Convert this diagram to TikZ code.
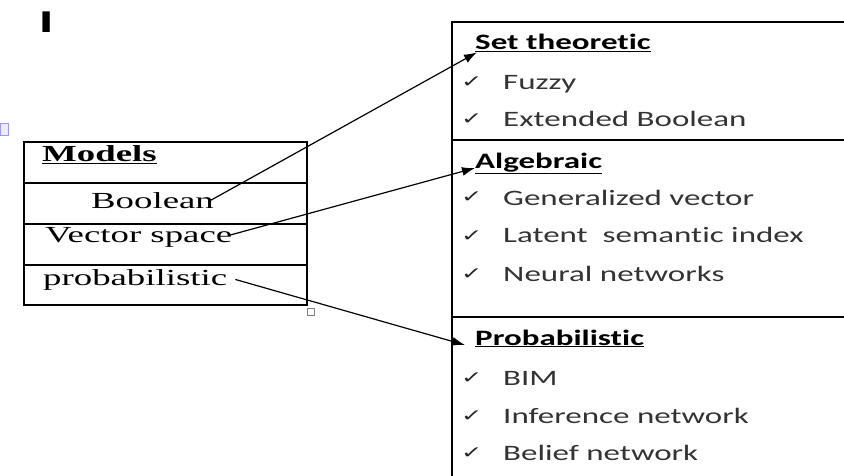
\documentclass[tikz,border=0pt]{standalone}
\usepackage{fontspec}
\usetikzlibrary{arrows.meta}
\setmainfont[FakeStretch=1.6]{Liberation Serif}
\newfontfamily\calfont[FakeStretch=1.5, Ligatures=NoCommon]{Carlito}
\newfontfamily\tickfont[FakeStretch=1.5]{DejaVu Sans}
\newfontfamily\markfont[FakeStretch=1.7]{Liberation Sans}

\begin{document}
\begin{tikzpicture}[x=1pt, y=-1pt,
    cell/.style={draw=black, line width=1.5pt},
    model/.style={anchor=base west, inner sep=0pt,
        font=\fontsize{23}{23}\selectfont},
    head/.style={anchor=base west, inner sep=0pt,
        font=\calfont\bfseries\fontsize{22}{22}\selectfont},
    item/.style={anchor=base west, inner sep=0pt, text=black!80,
        font=\calfont\fontsize{22}{22}\selectfont},
    tick/.style={anchor=base west, inner sep=0pt, text=black!85,
        font=\tickfont\fontsize{17}{17}\selectfont},
    link/.style={line width=1.2pt, -{Latex[length=13pt,width=9pt]}}
]
    \useasboundingbox (0,0) rectangle (844,476);
    \node[anchor=base west, inner sep=0pt, font=\markfont\bfseries\fontsize{30}{30}\selectfont] (mark) at (39,33) {I};
    \draw[draw=blue!40, fill=blue!8] (0,123) rectangle (8,135);
    \draw[draw=gray, line width=0.8pt] (307,308) rectangle (314,315);

    \draw[cell] (24,142) rectangle (307,305);
    \draw[cell] (24,183) -- (307,183);
    \draw[cell] (24,224) -- (307,224);
    \draw[cell] (24,265) -- (307,265);
    \node[model] (models) at (42,162) {\underline{\textbf{Models}}};
    \node[model] (boolean) at (91,208) {Boolean};
    \node[model] (vector) at (45,243) {Vector space};
    \node[model] (probab) at (43,285) {probabilistic};

    \draw[cell] (844,22) -- (452,22) -- (452,476);
    \draw[cell] (452,140) -- (844,140);
    \draw[cell] (452,317) -- (844,317);
    \node[head] (settheo) at (475,50) {\underline{Set theoretic}};
    \node[tick] (t1) at (461,88) {✓};
    \node[item] (fuzzy) at (503,90) {Fuzzy};
    \node[tick] (t2) at (461,125) {✓};
    \node[item] (extbool) at (503,127) {Extended Boolean};
    \node[head] (algebraic) at (475,168) {\underline{Algebraic}};
    \node[tick] (t3) at (461,203) {✓};
    \node[item] (genvec) at (503,205) {Generalized vector};
    \node[tick] (t4) at (461,241) {✓};
    \node[item] (latent) at (503,243) {Latent\ \ semantic index};
    \node[tick] (t5) at (461,279) {✓};
    \node[item] (neural) at (503,281) {Neural networks};
    \node[head] (probhead) at (475,345) {\underline{Probabilistic}};
    \node[tick] (t6) at (461,383) {✓};
    \node[item] (bim) at (503,385) {BIM};
    \node[tick] (t7) at (461,421) {✓};
    \node[item] (inference) at (503,423) {Inference network};
    \node[tick] (t8) at (461,458) {✓};
    \node[item] (belief) at (503,460) {Belief network};

    \draw[link] ([xshift=-3pt]boolean.east) -- ([xshift=2pt]settheo.south west);
    \draw[link] ([xshift=-2pt, yshift=8pt]vector.base east) -- (algebraic.base west);
    \draw[link] ([xshift=8pt]probab.east) -- ([xshift=-10pt]probhead.base west);
\end{tikzpicture}
\end{document}
